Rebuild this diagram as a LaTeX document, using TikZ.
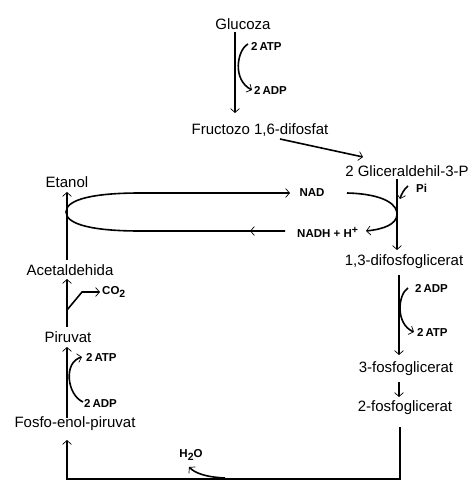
\documentclass[tikz,border=0pt]{standalone}
\usepackage{fontspec}
\setmainfont{Liberation Sans}
\usetikzlibrary{arrows.meta}
\newcommand{\mysub}[1]{\raisebox{-2.5pt}{\fontsize{10.5}{12}\selectfont #1}}
\newcommand{\mysup}[1]{\raisebox{4pt}{\fontsize{10.5}{12}\selectfont #1}}
\begin{document}
\begin{tikzpicture}[x=1pt,y=-1pt,
  lbl/.style={inner sep=0pt,font=\fontsize{15}{18}\selectfont},
  sm/.style={inner sep=0pt,font=\fontsize{11.5}{13}\selectfont\bfseries},
  main/.style={line width=1.6pt},
  tip/.style={-{Straight Barb[length=4pt,width=9pt,line width=0.7pt]}}
]
\useasboundingbox[fill=white] (0,0) rectangle (473,493);
% main texts
\node[lbl] (glu) at (243,24) {Glucoza};
\node[lbl] (fru) at (260,130) {Fructozo 1,6-difosfat};
\node[lbl] (gli) at (407,171) {2 Gliceraldehil-3-P};
\node[lbl] (dpg) at (404,262) {1,3-difosfoglicerat};
\node[lbl] (pgc) at (406,369) {3-fosfoglicerat};
\node[lbl] (pgb) at (405,408) {2-fosfoglicerat};
\node[lbl] (pep) at (75,424) {Fosfo-enol-piruvat};
\node[lbl] (pir) at (68,337) {Piruvat};
\node[lbl] (ace) at (70,270) {Acetaldehida};
\node[lbl] (eta) at (67,182) {Etanol};
% small labels
\node[sm,anchor=west] (atpa) at (251,46) {2\,ATP};
\node[sm,anchor=west] (adpa) at (254,90) {2\,ADP};
\node[sm,anchor=west] (pi) at (416,188) {Pi};
\node[sm] (nad) at (312,193) {NAD};
\node[sm,anchor=west] (nadh) at (297,232) {NADH + H\mysup{+}};
\node[sm,anchor=west] (adpb) at (415,288) {2\,ADP};
\node[sm,anchor=west] (atpb) at (417,332) {2\,ATP};
\node[sm,anchor=west] (co2) at (102,292) {CO\mysub{2}};
\node[sm,anchor=west] (atpc) at (86,357) {2\,ATP};
\node[sm,anchor=west] (adpc) at (84,403) {2\,ADP};
\node[sm] (h2o) at (191,455) {H\mysub{2}O};
% coordinates
\coordinate (g1) at (235,32); \coordinate (g2) at (235,113);
\coordinate (f1) at (280,139); \coordinate (f2) at (363,157);
\coordinate (k1) at (397,179); \coordinate (k2) at (397,250);
\coordinate (d1) at (399,275); \coordinate (d2) at (399,355);
\coordinate (c1) at (399,382); \coordinate (c2) at (399,397);
\coordinate (b1) at (400,427); \coordinate (b2) at (67,440);
\coordinate (p1) at (67,418); \coordinate (p2) at (67,347);
\coordinate (r1) at (67,327); \coordinate (r2) at (67,279);
\coordinate (a1) at (67,260); \coordinate (a2) at (67,192);
% main connectors
\draw[main,tip] (g1) -- (g2);
\draw[main,tip] (f1) -- (f2);
\draw[main,tip] (k1) -- (k2);
\draw[main,tip] (d1) -- (d2);
\draw[main,tip] (c1) -- (c2);
\draw[main,tip] (b1) -- (400,479) -- (67,479) -- (b2);
\draw[main,tip] (p1) -- (p2);
\draw[main,tip] (r1) -- (r2);
\draw[main,tip] (a1) -- (a2);
% side arrows
\draw[main,tip] (248,44) .. controls (237,50) and (232,80) .. (252,90);
\draw[main,tip] (408,288) .. controls (398,294) and (395,324) .. (414,332);
\draw[main,tip] (83,402) .. controls (67,395) and (63,362) .. (82,357);
\draw[main,tip] (67,310) -- (82,292) -- (100,292);
\draw[main,tip] (408,186) .. controls (404,189) and (401,195) .. (400,199);
\draw[main,tip] (225,478) .. controls (205,477) and (195,473) .. (189,467);
\draw[main,tip] (347,193) .. controls (385,194) and (398,205) .. (397,215)
  .. controls (396,224) and (385,229) .. (366,231);
% NAD loop
\draw[main,tip] (285,231) -- (140,231) .. controls (95,231) and (66,225) .. (66,212)
  .. controls (66,199) and (95,193) .. (140,193) -- (290,193);
\draw[main,tip] (262,231) -- (250,231);
\end{tikzpicture}
\end{document}
